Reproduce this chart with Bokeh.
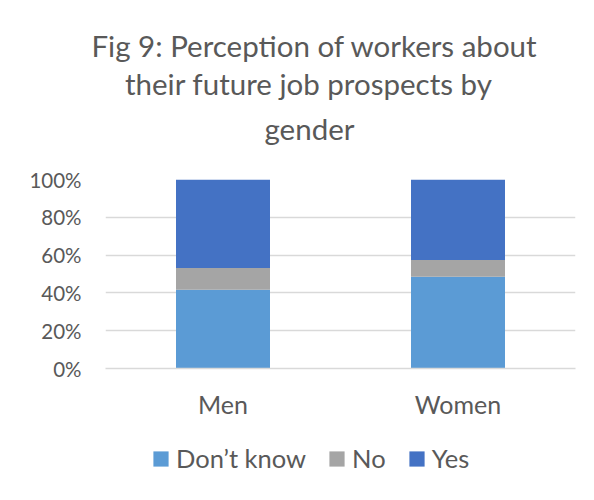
from bokeh.plotting import figure
from bokeh.layouts import column
from bokeh.models import FactorRange, Range1d, Title, Legend, PrintfTickFormatter, FixedTicker
from bokeh.embed import file_html
from bokeh.resources import INLINE

genders = ["Men", "Women"]
dont_know = [41.7, 48.6]
no = [11.5, 8.8]
yes = [46.8, 42.6]
series = ["Don\u2019t know", "No", "Yes"]
colors = ["#5B9BD5", "#A5A5A5", "#4472C4"]
y_ticks = [0, 20, 40, 60, 80, 100]
title_lines = ["Fig 9: Perception of workers about", "their future job prospects by", "gender"]

FONT = "Lato"
TXT = "#595959"

data = {"gender": genders, "Don\u2019t know": dont_know, "No": no, "Yes": yes}

p = figure(frame_width=470, frame_height=189, x_range=FactorRange(*genders, range_padding=0),
           y_range=Range1d(0, 100), output_backend="svg", toolbar_location=None,
           min_border_left=105, min_border_right=3, min_border_top=179, min_border_bottom=64)

rs = p.vbar_stack(series, x="gender", width=0.4, color=colors, source=data, line_color=None)

p.outline_line_color = None
p.xgrid.grid_line_color = None
p.ygrid.grid_line_color = "#D9D9D9"
p.ygrid.grid_line_width = 1.3
p.yaxis.ticker = FixedTicker(ticks=y_ticks)
p.yaxis.formatter = PrintfTickFormatter(format="%d%%")
p.yaxis.axis_line_color = None
p.yaxis.major_tick_line_color = None
p.yaxis.minor_tick_line_color = None
p.yaxis.major_label_standoff = 18
p.xaxis.axis_line_color = "#D9D9D9"
p.xaxis.axis_line_width = 1.3
p.xaxis.major_tick_line_color = None
p.xaxis.major_label_standoff = 14
for ax in (p.xaxis[0], p.yaxis[0]):
    ax.major_label_text_font = FONT
    ax.major_label_text_color = TXT
p.yaxis.major_label_text_font_size = "20.5px"
p.xaxis.major_label_text_font_size = "25px"

# title lines (first added sits closest to the frame)
title_offsets = [-14, 19.5, 159]
title_standoffs = [2, 1, 13.5]
p.add_layout(Title(text=" ", text_font_size="1px", standoff=24), "above")
for t, off, so in reversed(list(zip(title_lines, title_offsets, title_standoffs))):
    p.add_layout(Title(text=t, align="left", offset=off, standoff=so, text_font=FONT,
                       text_font_size="29.5px", text_font_style="normal", text_color=TXT),
                 "above")

# legend strip below the chart
lp = figure(width=578, height=52, x_range=FactorRange(*genders), y_range=Range1d(200, 300),
            output_backend="svg", toolbar_location=None, x_axis_location=None,
            y_axis_location=None, min_border=0)
lp.outline_line_color = None
lp.grid.visible = False
lrs = lp.vbar_stack(series, x="gender", width=0.4, color=colors, source=data, line_color=None)
legend = Legend(items=[(s, [r]) for s, r in zip(series, lrs)], orientation="horizontal",
                location=(46, 11), glyph_width=19, glyph_height=19, label_height=19,
                label_standoff=6, spacing=21, padding=0, margin=0, border_line_color=None,
                background_fill_alpha=0, label_text_font=FONT, label_text_color=TXT,
                label_text_font_size="25.5px")
lp.add_layout(legend, "center")

layout = column(p, lp, spacing=0)
open("out.html", "w").write(file_html(layout, INLINE))
